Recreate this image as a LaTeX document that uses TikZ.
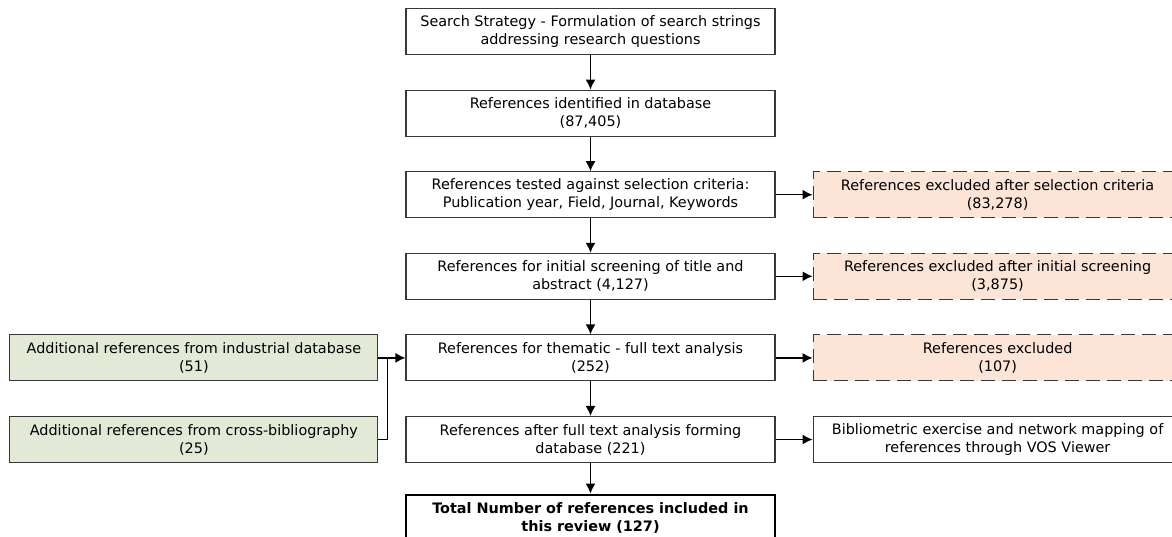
\documentclass[tikz,border=0pt]{standalone}
\usepackage{fontspec}
\setmainfont{DejaVu Sans}
\usetikzlibrary{arrows.meta,positioning}
\definecolor{peach}{HTML}{FCE4D6}
\definecolor{sage}{HTML}{E2EAD7}
\definecolor{edgegray}{HTML}{383838}

\begin{document}
\begin{tikzpicture}[x=1pt,y=1pt,
            >={Latex[length=10pt,width=10pt]},
            node distance=34.5pt and 37pt,
            line width=1.4pt,
            font=\fontsize{14.4}{18}\selectfont,
            box/.style={draw=edgegray,line width=1.1pt,minimum width=369pt,
                        minimum height=46pt,align=center,inner sep=2pt},
            excl/.style={box,fill=peach,dash pattern=on 14pt off 7pt},
            extra/.style={box,fill=sage,minimum width=368pt},
            final/.style={box,draw=black,line width=2.4pt,font=\fontsize{14.4}{18}\selectfont\bfseries}]

        \useasboundingbox (0,0) rectangle (1172,-536);

        \node[box]   (1) at (590.5,-31.5) {Search Strategy - Formulation of search strings\\addressing research questions};
        \node[box]   (2) [below=of 1] {References identified in database\\(87,405)};
        \node[box]   (3) [below=of 2] {References tested against selection criteria:\\Publication year, Field, Journal, Keywords};
        \node[box]   (4) [below=of 3] {References for initial screening of title and\\abstract (4,127)};
        \node[box]   (5) [below=of 4] {References for thematic - full text analysis\\(252)};
        \node[box]   (6) [below=of 5] {References after full text analysis forming\\database (221)};
        \node[final] (7) [below=30.5pt of 6] {Total Number of references included in\\this review (127)};

        \node[excl]  (x3) [right=of 3] {References excluded after selection criteria\\(83,278)};
        \node[excl]  (x4) [right=of 4] {References excluded after initial screening\\(3,875)};
        \node[excl]  (x5) [right=of 5] {References excluded\\(107)};
        \node[box]   (vos) [right=of 6] {Bibliometric exercise and network mapping of\\references through VOS Viewer};

        \node[extra] (a1) [left=27pt of 5] {Additional references from industrial database\\(51)};
        \node[extra] (a2) [left=27pt of 6] {Additional references from cross-bibliography\\(25)};
        \coordinate[right=9pt of a1.east] (j);

        \path[->] (1) edge (2)
                  (2) edge (3)
                  (3) edge (4)
                      edge (x3)
                  (4) edge (5)
                      edge (x4)
                  (5) edge (6)
                      edge (x5)
                  (6) edge (7)
                      edge (vos)
                  (a1) edge (5);
        \draw (a2.east) -| (j);

\end{tikzpicture}
\end{document}
